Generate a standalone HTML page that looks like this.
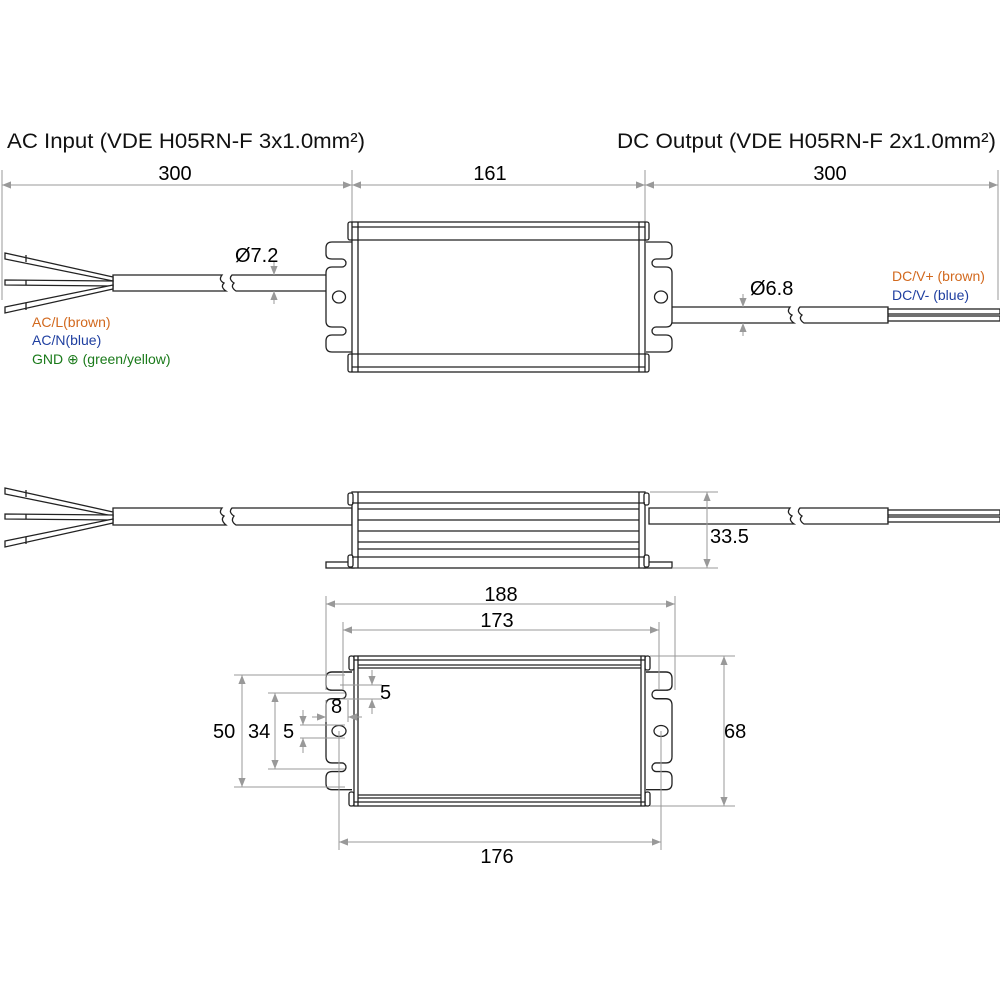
<!DOCTYPE html>
<html><head><meta charset="utf-8"><style>
html,body{margin:0;padding:0;background:#fff;}
svg{display:block;}
text{font-family:"Liberation Sans",Arial,sans-serif;}
</style></head><body>
<svg width="1000" height="1000" viewBox="0 0 1000 1000" xmlns="http://www.w3.org/2000/svg">
<defs>
<marker id="ar" viewBox="0 0 10 10" refX="10" refY="5" markerWidth="9" markerHeight="9" orient="auto-start-reverse" markerUnits="userSpaceOnUse"><path d="M0,1 L10,5 L0,9 Z" fill="#999"/></marker>
<path id="fl" d="M26,0 L6,0 Q0,0 0,6 L0,12 Q0,17 6,17 L16,17 A4,4 0 0 1 16,25 L6,25 Q0,25 0,31 L0,79 Q0,85 6,85 L16,85 A4,4 0 0 1 16,93 L6,93 Q0,93 0,99 L0,104 Q0,110 6,110 L26,110" fill="#fff" stroke="#222" stroke-width="1.3"/>
</defs>
<rect width="1000" height="1000" fill="#fff"/>

<!-- titles -->
<text x="7" y="148" font-size="21" fill="#111" textLength="358" lengthAdjust="spacingAndGlyphs">AC Input (VDE H05RN-F 3x1.0mm²)</text>
<text x="617" y="148" font-size="21" fill="#111" textLength="379" lengthAdjust="spacingAndGlyphs">DC Output (VDE H05RN-F 2x1.0mm²)</text>

<!-- top dims -->
<g stroke="#999" stroke-width="1" fill="none">
<line x1="2" y1="170" x2="2" y2="300"/>
<line x1="352" y1="170" x2="352" y2="222"/>
<line x1="645" y1="170" x2="645" y2="222"/>
<line x1="998" y1="170" x2="998" y2="300"/>
<line x1="2" y1="185" x2="352" y2="185" marker-start="url(#ar)" marker-end="url(#ar)"/>
<line x1="352" y1="185" x2="645" y2="185" marker-start="url(#ar)" marker-end="url(#ar)"/>
<line x1="645" y1="185" x2="998" y2="185" marker-start="url(#ar)" marker-end="url(#ar)"/>
</g>
<text x="175" y="180" font-size="20" text-anchor="middle">300</text>
<text x="490" y="180" font-size="20" text-anchor="middle">161</text>
<text x="830" y="180" font-size="20" text-anchor="middle">300</text>

<!-- ===== TOP VIEW ===== -->
<g stroke="#222" stroke-width="1.3" fill="#fff">
<path d="M113,275 L222,275 Q218,280 224,283 Q220,287 226,291 L113,291 Z"/>
<path d="M232,275 L352,275 L352,291 L236,291 Q230,287 234,283 Q228,279 232,275 Z"/>
<path d="M5,253 L113,277 L113,281 L5,259 Z"/><line x1="26" y1="255" x2="26" y2="262"/>
<path d="M5,280 L113,281 L113,286 L5,285 Z"/><line x1="26" y1="280" x2="26" y2="285"/>
<path d="M5,307 L113,285 L113,289 L5,313 Z"/><line x1="26" y1="303" x2="26" y2="310"/>
<path d="M649,307 L790,307 Q786,312 792,315 Q788,319 794,323 L649,323 Z"/>
<path d="M800,307 L888,307 L888,323 L804,323 Q798,319 802,315 Q796,311 800,307 Z"/>
<rect x="888" y="309" width="112" height="5"/>
<rect x="888" y="316" width="112" height="5"/>
<use href="#fl" x="326" y="242"/>
<use href="#fl" transform="translate(672,242) scale(-1,1)"/>
<ellipse cx="339" cy="297" rx="6.5" ry="6"/>
<ellipse cx="661" cy="297" rx="6.5" ry="6"/>
<rect x="348" y="222" width="5" height="18" rx="2"/>
<rect x="348" y="354" width="5" height="18" rx="2"/>
<rect x="644" y="222" width="5" height="18" rx="2"/>
<rect x="644" y="354" width="5" height="18" rx="2"/>
<rect x="352" y="222" width="293" height="150"/>
<line x1="352" y1="227" x2="645" y2="227"/>
<line x1="352" y1="240" x2="645" y2="240"/>
<line x1="352" y1="354" x2="645" y2="354"/>
<line x1="352" y1="367" x2="645" y2="367"/>
<line x1="358" y1="222" x2="358" y2="372"/>
<line x1="639" y1="222" x2="639" y2="372"/>
</g>
<g stroke="#999" stroke-width="1">
<line x1="274" y1="262" x2="274" y2="275" marker-end="url(#ar)"/>
<line x1="274" y1="304" x2="274" y2="291" marker-end="url(#ar)"/>
<line x1="743" y1="294" x2="743" y2="307" marker-end="url(#ar)"/>
<line x1="743" y1="336" x2="743" y2="323" marker-end="url(#ar)"/>
</g>
<text x="235" y="262" font-size="20">Ø7.2</text>
<text x="750" y="295" font-size="20">Ø6.8</text>
<text x="32" y="327" font-size="14" fill="#d2691e">AC/L(brown)</text>
<text x="32" y="345" font-size="14" fill="#1f3fa0">AC/N(blue)</text>
<text x="32" y="364" font-size="14" fill="#1a7a1a">GND ⊕ (green/yellow)</text>
<text x="892" y="281" font-size="14" fill="#d2691e">DC/V+ (brown)</text>
<text x="892" y="300" font-size="14" fill="#1f3fa0">DC/V- (blue)</text>

<!-- ===== SIDE VIEW ===== -->
<g stroke="#222" stroke-width="1.3" fill="#fff">
<path d="M113,508 L222,508 Q218,513 224,516 Q220,520 226,525 L113,525 Z"/>
<path d="M232,508 L352,508 L352,525 L236,525 Q230,521 234,516 Q228,512 232,508 Z"/>
<path d="M5,488 L113,512 L113,516 L5,494 Z"/><line x1="26" y1="490" x2="26" y2="497"/>
<path d="M5,514 L113,515 L113,520 L5,519 Z"/><line x1="26" y1="514" x2="26" y2="519"/>
<path d="M5,541 L113,519 L113,523 L5,547 Z"/><line x1="26" y1="537" x2="26" y2="544"/>
<path d="M649,508 L790,508 Q786,513 792,516 Q788,520 794,524 L649,524 Z"/>
<path d="M800,508 L888,508 L888,524 L804,524 Q798,520 802,516 Q796,512 800,508 Z"/>
<rect x="888" y="510" width="112" height="5"/>
<rect x="888" y="517" width="112" height="5"/>
<rect x="326" y="562" width="28" height="6"/>
<rect x="644" y="562" width="28" height="6"/>
<rect x="352" y="492" width="293" height="76"/>
<rect x="348" y="493" width="5" height="12" rx="2"/>
<rect x="348" y="555" width="5" height="12" rx="2"/>
<rect x="644" y="493" width="5" height="12" rx="2"/>
<rect x="644" y="555" width="5" height="12" rx="2"/>
<line x1="358" y1="492" x2="358" y2="568"/>
<line x1="639" y1="492" x2="639" y2="568"/>
<line x1="352" y1="503" x2="645" y2="503"/>
<line x1="358" y1="509" x2="639" y2="509"/>
<line x1="358" y1="520" x2="639" y2="520"/>
<line x1="358" y1="531" x2="639" y2="531"/>
<line x1="358" y1="542" x2="639" y2="542"/>
<line x1="358" y1="549" x2="639" y2="549"/>
<line x1="352" y1="557" x2="645" y2="557"/>
</g>
<g stroke="#999" stroke-width="1" fill="none">
<line x1="650" y1="492" x2="718" y2="492"/>
<line x1="672" y1="568" x2="718" y2="568"/>
<line x1="707" y1="492" x2="707" y2="568" marker-start="url(#ar)" marker-end="url(#ar)"/>
</g>
<text x="710" y="543" font-size="20">33.5</text>

<!-- ===== BOTTOM VIEW ===== -->
<g stroke="#222" stroke-width="1.3" fill="#fff">
<use href="#fl" transform="translate(326,672) scale(1,1.07)"/>
<use href="#fl" transform="translate(672,672) scale(-1,1.07)"/>
<ellipse cx="339" cy="731" rx="7" ry="5.5"/>
<ellipse cx="661" cy="731" rx="7" ry="5.5"/>
<rect x="349" y="656" width="5" height="14" rx="2"/>
<rect x="349" y="792" width="5" height="14" rx="2"/>
<rect x="645" y="656" width="5" height="14" rx="2"/>
<rect x="645" y="792" width="5" height="14" rx="2"/>
<rect x="354" y="656" width="291" height="150"/>
<line x1="358" y1="656" x2="358" y2="806"/>
<line x1="641" y1="656" x2="641" y2="806"/>
<line x1="354" y1="660" x2="645" y2="660"/>
<line x1="358" y1="665" x2="641" y2="665"/>
<line x1="358" y1="668" x2="641" y2="668"/>
<line x1="358" y1="795" x2="641" y2="795"/>
<line x1="358" y1="798" x2="641" y2="798"/>
<line x1="354" y1="802" x2="645" y2="802"/>
</g>
<g stroke="#999" stroke-width="1" fill="none">
<line x1="326" y1="596" x2="326" y2="690"/>
<line x1="675" y1="596" x2="675" y2="690"/>
<line x1="326" y1="604" x2="675" y2="604" marker-start="url(#ar)" marker-end="url(#ar)"/>
<line x1="343" y1="622" x2="343" y2="690"/>
<line x1="659" y1="622" x2="659" y2="690"/>
<line x1="343" y1="630" x2="659" y2="630" marker-start="url(#ar)" marker-end="url(#ar)"/>
<line x1="339" y1="731" x2="339" y2="850"/>
<line x1="661" y1="731" x2="661" y2="850"/>
<line x1="339" y1="842" x2="661" y2="842" marker-start="url(#ar)" marker-end="url(#ar)"/>
<line x1="650" y1="656" x2="735" y2="656"/>
<line x1="650" y1="806" x2="735" y2="806"/>
<line x1="724" y1="656" x2="724" y2="806" marker-start="url(#ar)" marker-end="url(#ar)"/>
<line x1="234" y1="675" x2="345" y2="675"/>
<line x1="234" y1="787" x2="345" y2="787"/>
<line x1="242" y1="675" x2="242" y2="787" marker-start="url(#ar)" marker-end="url(#ar)"/>
<line x1="268" y1="693" x2="345" y2="693"/>
<line x1="268" y1="769" x2="345" y2="769"/>
<line x1="275" y1="693" x2="275" y2="769" marker-start="url(#ar)" marker-end="url(#ar)"/>
<line x1="300" y1="725" x2="345" y2="725"/>
<line x1="300" y1="738" x2="345" y2="738"/>
<line x1="303" y1="710" x2="303" y2="725" marker-end="url(#ar)"/>
<line x1="303" y1="753" x2="303" y2="738" marker-end="url(#ar)"/>
<line x1="340" y1="685" x2="382" y2="685"/>
<line x1="340" y1="699" x2="382" y2="699"/>
<line x1="372" y1="670" x2="372" y2="685" marker-end="url(#ar)"/>
<line x1="372" y1="714" x2="372" y2="699" marker-end="url(#ar)"/>
<line x1="326" y1="700" x2="326" y2="722"/>
<line x1="348" y1="700" x2="348" y2="722"/>
<line x1="312" y1="717" x2="326" y2="717" marker-end="url(#ar)"/>
<line x1="362" y1="717" x2="348" y2="717" marker-end="url(#ar)"/>
</g>
<text x="501" y="601" font-size="20" text-anchor="middle">188</text>
<text x="497" y="627" font-size="20" text-anchor="middle">173</text>
<text x="497" y="863" font-size="20" text-anchor="middle">176</text>
<text x="724" y="738" font-size="20">68</text>
<text x="213" y="738" font-size="20">50</text>
<text x="248" y="738" font-size="20">34</text>
<text x="283" y="738" font-size="20">5</text>
<text x="331" y="713" font-size="20">8</text>
<text x="380" y="699" font-size="20">5</text>
</svg>
</body></html>
